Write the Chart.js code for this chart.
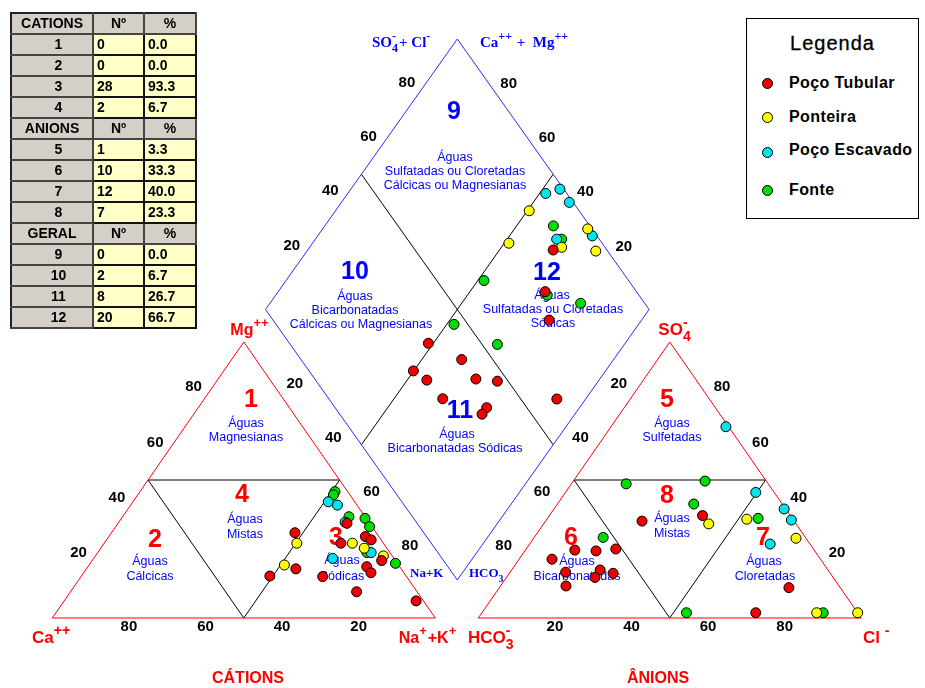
<!DOCTYPE html>
<html><head><meta charset="utf-8">
<script src="https://cdn.jsdelivr.net/npm/chart.js@4/dist/chart.umd.min.js"></script>
<style>
body{margin:0;background:#fff;}
#wrap{position:relative;width:925px;height:688px;overflow:hidden;background:#fff;}
#c{position:absolute;left:0;top:0;}
#zt{position:absolute;left:10px;top:12px;border-collapse:collapse;font:bold 14px "Liberation Sans",Arial,sans-serif;border:2px solid #222;}
#zt td{padding:0 3px;border:1px solid #333;height:19px;line-height:17px;}
#zt td.h{background:#d4d0c8;text-align:center;border-top:1px solid #fff;border-left:1px solid #fff;border-bottom:2px solid #444;border-right:2px solid #444;}
#zt td.z{background:#d4d0c8;text-align:center;padding-left:16px;border-top:1px solid #fff;border-left:1px solid #fff;border-bottom:2px solid #444;border-right:2px solid #444;}
#zt td.v{background:#ffffc8;text-align:left;border:2px solid #111;}
#leg{position:absolute;left:746px;top:18px;width:171px;height:199px;border:1px solid #000;background:#fff;font-family:"Liberation Sans",Arial,sans-serif;}
#leg .t{position:absolute;left:0;width:171px;top:13px;text-align:center;font-size:20px;letter-spacing:1px;-webkit-text-stroke:0.3px #000;}
#leg .i{position:absolute;left:42px;font-weight:bold;font-size:16px;letter-spacing:0.4px;line-height:18px;}
#leg .d{position:absolute;left:15px;width:9px;height:9px;border:1px solid #000;border-radius:50%;}
</style></head>
<body>
<div id="wrap">
<canvas id="c" width="925" height="688"></canvas>
<table id="zt"></table>
<div id="leg"></div>
</div>
<script>
// ---------- DATA ----------
const seriesNames = ['Poço Tubular', 'Ponteira', 'Poço Escavado', 'Fonte'];
const seriesColors = ['#ee0000', '#ffff00', '#00e4f0', '#00dd00'];

// Cation triangle: [Mg %, Na+K %]
const tubularCations = [[34.3,59.8],[30.9,47.9],[27.1,61.8],[29.5,67.0],[28.3,69.1],[20.8,75.6],[17.8,54.7],[15.2,49.2],[15.0,63.1],[18.6,72.8],[16.4,75.0],[9.5,74.7],[6.2,91.9]];
const ponteiraCations = [[27.1,50.3],[27.1,64.8],[25.3,68.8],[22.5,75.2],[19.2,51.0]];
const escavadoCations = [[42.1,51.0],[40.9,54.0],[34.7,59.1],[23.7,71.4],[21.6,62.4]];
const fonteCations = [[45.8,50.9],[44.6,51.1],[36.7,59.1],[36.1,63.6],[33.1,66.3],[23.7,70.3],[19.8,79.7]];

// Anion triangle: [SO4 %, Cl %]
const tubularAnions = [[35.1,25.2],[37.1,40.0],[24.6,12.9],[24.3,18.6],[25.0,23.4],[21.3,8.6],[16.6,14.5],[17.4,23.1],[14.7,23.1],[16.2,27.1],[11.6,17.1],[11.0,75.6],[1.9,71.5]];
const ponteiraAnions = [[34.1,43.1],[35.8,52.2],[28.9,68.5],[1.9,87.4],[1.9,98.1]];
const escavadoAnions = [[69.3,30.0],[45.5,49.7],[39.5,60.1],[35.5,64.0],[26.8,62.8]];
const fonteAnions = [[48.6,14.3],[29.2,18.0],[41.3,35.6],[49.6,34.4],[36.1,55.0],[1.9,53.4],[1.9,89.1]];

// Diamond: [Na+K %, SO4+Cl %]
const tubularDiamond = [[64.0,86.0],[69.6,76.2],[75.9,72.0],[48.7,36.2],[60.4,41.9],[49.9,27.2],[55.1,29.0],[67.7,42.0],[73.7,47.2],[92.5,59.4],[62.7,29.7],[75.8,39.5],[75.8,37.1]];
const ponteiraDiamond = [[50.5,87.0],[69.1,98.9],[51.2,75.7],[65.7,88.7],[75.3,96.9]];
const escavadoDiamond = [[51.6,94.5],[54.5,99.0],[59.4,99.0],[71.6,98.8],[62.9,88.9]];
const fonteDiamond = [[59.6,90.5],[64.2,90.2],[51.6,62.3],[70.8,76.1],[81.0,83.3],[51.9,46.4],[66.9,54.0]];

// Classification table
const cationZones = ['1','2','3','4'];
const cationCounts = [0,0,28,2];
const cationPercents = ['0.0','0.0','93.3','6.7'];
const anionZones = ['5','6','7','8'];
const anionCounts = [1,10,12,7];
const anionPercents = ['3.3','33.3','40.0','23.3'];
const generalZones = ['9','10','11','12'];
const generalCounts = [0,2,8,20];
const generalPercents = ['0.0','6.7','26.7','66.7'];

// Axis tick labels
const tickValues = [20,40,60,80];

// ---------- GEOMETRY ----------
const W = 925, H = 688;
const CAT = {x0:52.3, x1:435.3, yb:618, top:342};
const AN  = {x0:478.3, x1:861.3, yb:618, top:342};
const DIA = {L:{x:265.5,y:309.5}, B:{x:457.3,y:580}, T:{x:457.3,y:39}};

function triXY(t, up, right){
  const w = t.x1 - t.x0, h = t.yb - t.top;
  return {x: t.x0 + w*(right + up/2)/100, y: t.yb - h*up/100};
}
function diaXY(nak, sc){
  const {L,B,T} = DIA;
  return {x: L.x + (B.x-L.x)*nak/100 + (T.x-L.x)*sc/100,
          y: L.y + (B.y-L.y)*nak/100 + (T.y-L.y)*sc/100};
}

const seriesCations = [tubularCations, ponteiraCations, escavadoCations, fonteCations];
const seriesAnions = [tubularAnions, ponteiraAnions, escavadoAnions, fonteAnions];
const seriesDiamond = [tubularDiamond, ponteiraDiamond, escavadoDiamond, fonteDiamond];

const pointDatasets = seriesNames.map((name, i) => ({
  label: name,
  data: [
    ...seriesCations[i].map(([mg, na]) => triXY(CAT, mg, na)),
    ...seriesAnions[i].map(([so4, cl]) => triXY(AN, so4, cl)),
    ...seriesDiamond[i].map(([nak, sc]) => diaXY(nak, sc))
  ],
  backgroundColor: seriesColors[i],
  borderColor: '#000',
  borderWidth: 1,
  pointRadius: 5,
  pointHoverRadius: 5,
  showLine: false
}));

function lineDs(pts, color){
  return {data: pts, showLine: true, borderColor: color, borderWidth: 1, pointRadius: 0, fill: false, tension: 0};
}
const RED = '#ff0000', BLUE = '#2a2aff', BLACK = '#000000';
const lineDatasets = [
  lineDs([triXY(CAT,0,0), triXY(CAT,0,100), triXY(CAT,100,0), triXY(CAT,0,0)], RED),
  lineDs([triXY(CAT,50,0), triXY(CAT,50,50), triXY(CAT,0,50), triXY(CAT,50,0)], BLACK),
  lineDs([triXY(AN,0,0), triXY(AN,0,100), triXY(AN,100,0), triXY(AN,0,0)], RED),
  lineDs([triXY(AN,50,0), triXY(AN,50,50), triXY(AN,0,50), triXY(AN,50,0)], BLACK),
  lineDs([diaXY(0,100), diaXY(0,0), diaXY(100,0), diaXY(100,100), diaXY(0,100)], BLUE),
  lineDs([diaXY(0,50), diaXY(100,50)], BLACK),
  lineDs([diaXY(50,100), diaXY(50,0)], BLACK)
];

// ---------- TEXT ----------
const SANS = '"Liberation Sans", Arial, sans-serif';
const SERIF = '"Liberation Serif", "Times New Roman", serif';

function rich(ctx, x, y, parts, size, family, color, align){
  ctx.save();
  ctx.fillStyle = color;
  ctx.textBaseline = 'alphabetic';
  const big = 'bold ' + size + 'px ' + family;
  const small = 'bold ' + Math.round(size*0.8) + 'px ' + family;
  const widths = parts.map(p => {
    if (p.t !== undefined){ ctx.font = big; return ctx.measureText(p.t).width; }
    ctx.font = small;
    return Math.max(p.sup ? ctx.measureText(p.sup).width : 0, p.sub ? ctx.measureText(p.sub).width : 0) + 1;
  });
  const total = widths.reduce((a,b)=>a+b,0);
  let cx = align === 'center' ? x - total/2 : x;
  parts.forEach((p, i) => {
    if (p.t !== undefined){ ctx.font = big; ctx.fillText(p.t, cx, y); }
    else {
      ctx.font = small;
      if (p.sup) ctx.fillText(p.sup, cx, y - size*0.5);
      if (p.sub) ctx.fillText(p.sub, cx, y + size*0.35);
    }
    cx += widths[i];
  });
  ctx.restore();
}

const zoneNumbersRed = [['1',251,400],['2',155,540],['3',336,538],['4',242,495],['5',667,400],['6',571,538],['7',763,538],['8',667,496]];
const zoneNumbersBlue = [['9',454,112],['10',355,272],['11',460,411],['12',547,273]];
const zoneTexts = [
  [246,424,'Águas'],[246,438,'Magnesianas'],
  [150,562,'Águas'],[150,577,'Cálcicas'],
  [342,561,'Águas'],[342,577,'Sódicas'],
  [245,520,'Águas'],[245,535,'Mistas'],
  [672,424,'Águas'],[672,438,'Sulfetadas'],
  [577,562,'Águas'],[577,577,'Bicarbonatadas'],
  [764,562,'Águas'],[765,577,'Cloretadas'],
  [672,519,'Águas'],[672,534,'Mistas'],
  [455,158,'Águas'],[455,172,'Sulfatadas ou Cloretadas'],[455,186,'Cálcicas ou Magnesianas'],
  [355,297,'Águas'],[355,311,'Bicarbonatadas'],[361,325,'Cálcicas ou Magnesianas'],
  [457,435,'Águas'],[455,449,'Bicarbonatadas Sódicas'],
  [552,296,'Águas'],[553,310,'Sulfatadas ou Cloretadas'],[553,324,'Sódicas']
];

const textPlugin = {
  id: 'pipertext',
  beforeDatasetsDraw(chart){
    const ctx = chart.ctx, sx = chart.scales.x, sy = chart.scales.y;
    const P = p => ({x: sx.getPixelForValue(p.x), y: sy.getPixelForValue(p.y)});
    const put = (txt, p, dx, dy) => ctx.fillText(txt, p.x + dx, p.y + dy);
    ctx.save();
    ctx.textAlign = 'center'; ctx.textBaseline = 'middle';
    // tick labels
    ctx.fillStyle = '#000';
    ctx.font = 'bold 15px ' + SANS;
    tickValues.forEach(t => {
      put(String(t), P(triXY(CAT, 0, 100 - t)), 0, 9);      // Ca along base
      put(String(t), P(triXY(AN, 0, t)), 0, 9);             // Cl along base
      put(String(t), P(triXY(CAT, t, 0)), -12, -10);        // Mg left side
      put(String(t), P(triXY(AN, t, 100 - t)), 14, -10);    // SO4 right side
      put(String(t), P(diaXY(0, t)), -12, -10);             // SO4+Cl
      put(String(t), P(diaXY(100 - t, 100)), 13, -9);       // Ca+Mg
      put(String(t), P(diaXY(t, 0)), -9, 20);               // Na+K
      put(String(t), P(diaXY(100, 100 - t)), 8, 20);        // HCO3
    });
    // zone numbers
    ctx.font = 'bold 25px ' + SANS;
    ctx.fillStyle = '#ff0000';
    zoneNumbersRed.forEach(([t,x,y]) => put(t, P({x,y}), 0, 0));
    ctx.fillStyle = '#0000ff';
    zoneNumbersBlue.forEach(([t,x,y]) => put(t, P({x,y}), 0, 0));
    // zone descriptions
    ctx.font = '12.5px ' + SANS;
    ctx.fillStyle = '#0000ff';
    zoneTexts.forEach(([x,y,t]) => put(t, P({x,y}), 0, 0));
    // axis titles
    ctx.fillStyle = '#ff0000';
    ctx.font = 'bold 16px ' + SANS;
    put('CÁTIONS', P({x:248,y:679}), 0, 0);
    put('ÂNIONS', P({x:658,y:679}), 0, 0);
    ctx.restore();
    // corner labels (red)
    rich(ctx, 32, 643, [{t:'Ca'},{sup:'++'}], 17, SANS, '#ff0000', 'left');
    rich(ctx, 428, 643, [{t:'Na'},{sup:'+'},{t:'+K'},{sup:'+'}], 16, SANS, '#ff0000', 'center');
    rich(ctx, 250, 335, [{t:'Mg'},{sup:'++'}], 16, SANS, '#ff0000', 'center');
    rich(ctx, 675, 335, [{t:'SO'},{sub:'4', sup:'-'}], 17, SANS, '#ff0000', 'center');
    rich(ctx, 468, 643, [{t:'HCO'},{sub:'3', sup:'-'}], 17, SANS, '#ff0000', 'left');
    rich(ctx, 863, 643, [{t:'Cl '},{sup:'-'}], 17, SANS, '#ff0000', 'left');
    // diamond labels (blue serif)
    rich(ctx, 372, 47, [{t:'SO'},{sub:'4', sup:'-'},{t:'+ Cl'},{sup:'-'}], 15, SERIF, '#0000ff', 'left');
    rich(ctx, 480, 47, [{t:'Ca'},{sup:'++'},{t:' +  Mg'},{sup:'++'}], 15, SERIF, '#0000ff', 'left');
    rich(ctx, 410, 577, [{t:'Na+K'}], 13, SERIF, '#0000ff', 'left');
    rich(ctx, 469, 577, [{t:'HCO'},{sub:'3'}], 13, SERIF, '#0000ff', 'left');
  }
};

new Chart(document.getElementById('c'), {
  type: 'scatter',
  data: {datasets: [...pointDatasets, ...lineDatasets]},
  options: {
    responsive: false,
    animation: false,
    events: [],
    layout: {padding: 0, autoPadding: false},
    scales: {
      x: {type:'linear', min:0, max:W, display:false},
      y: {type:'linear', min:0, max:H, reverse:true, display:false}
    },
    plugins: {legend:{display:false}, tooltip:{enabled:false}}
  },
  plugins: [textPlugin]
});

// ---------- TABLE ----------
const tbl = document.getElementById('zt');
const colgroup = '<colgroup><col style="width:82px"><col style="width:51px"><col style="width:52px"></colgroup>';
let html = colgroup;
function block(title, zones, counts, pcts){
  html += '<tr><td class="h">' + title + '</td><td class="h">Nº</td><td class="h">%</td></tr>';
  zones.forEach((z, i) => {
    html += '<tr><td class="z">' + z + '</td><td class="v">' + counts[i] + '</td><td class="v">' + pcts[i] + '</td></tr>';
  });
}
block('CATIONS', cationZones, cationCounts, cationPercents);
block('ANIONS', anionZones, anionCounts, anionPercents);
block('GERAL', generalZones, generalCounts, generalPercents);
tbl.innerHTML = html;

// ---------- LEGEND ----------
const leg = document.getElementById('leg');
const legY = [64, 98, 131, 171];
const dotY = [64, 98, 133, 171];
let lh = '<div class="t">Legenda</div>';
seriesNames.forEach((n, i) => {
  lh += '<div class="d" style="top:' + (dotY[i]-5) + 'px;background:' + seriesColors[i] + '"></div>';
  lh += '<div class="i" style="top:' + (legY[i]-9) + 'px">' + n + '</div>';
});
leg.innerHTML = lh;
</script>
</body></html>
